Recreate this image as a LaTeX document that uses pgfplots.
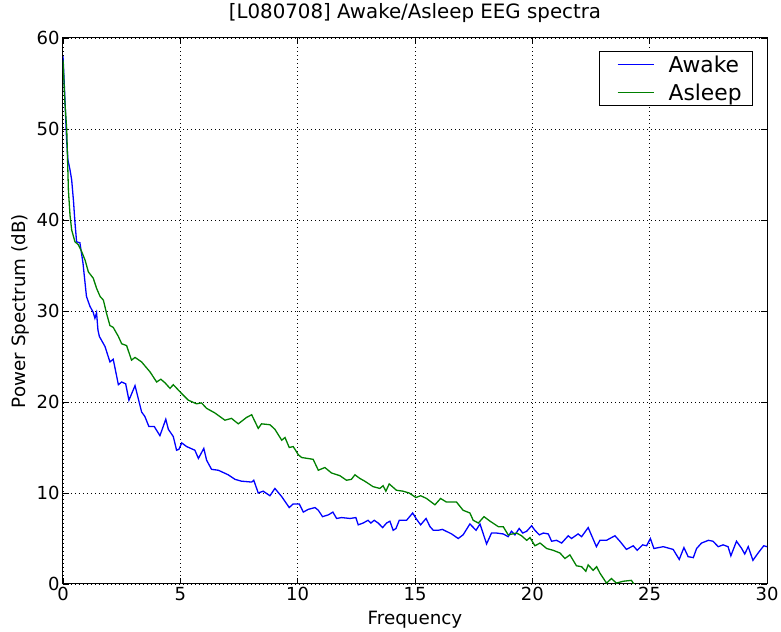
\documentclass[border=0pt]{standalone}
\usepackage{fontspec}
\setmainfont{DejaVu Sans}
\usepackage{pgfplots}
\pgfplotsset{compat=1.18}

\definecolor{mplblue}{rgb}{0,0,1}
\definecolor{mplgreen}{rgb}{0,0.5,0}

\begin{document}
\begin{tikzpicture}
\begin{axis}[
  scale only axis,
  width=704pt, height=546pt,
  xmin=0, xmax=30, ymin=0, ymax=60,
  xtick={0,5,...,30}, ytick={0,10,...,60},
  /pgf/number format/assume math mode=true,
  tick label style={font=\fontsize{18}{18}\selectfont},
  tick align=inside,
  major tick length=6pt,
  axis line style={line width=1pt},
  every tick/.style={black, line width=0.8pt},
  grid=major,
  major grid style={black, line width=0.8pt, dash pattern=on 1pt off 3pt},
  xlabel={Frequency},
  ylabel={Power Spectrum (dB)},
  title={[L080708] Awake/Asleep EEG spectra},
  label style={font=\fontsize{18.3}{18}\selectfont},
  xlabel style={at={(axis description cs:0.5,-0.066)}, anchor=center},
  ylabel style={at={(axis description cs:-0.061,0.5)}, anchor=center},
  title style={at={(axis description cs:0.5,1.035)}, anchor=center, font=\fontsize{19.8}{20}\selectfont},
  legend style={at={(rel axis cs:0.9801,0.9762)}, anchor=north east, draw=black, line width=0.8pt,
    font=\fontsize{21.8}{24}\selectfont, inner xsep=11pt, inner ysep=2pt,
    nodes={inner sep=0pt, text height=19pt, text depth=3pt}, row sep=6pt, column sep=0pt},
  legend cell align=left,
  legend image code/.code={
    \path[draw=none] (-7pt,0pt) -- (51pt,0pt);
    \draw[#1, line width=1.3pt] plot coordinates {(0pt,0pt) (36pt,0pt)};
  },
]
\addplot[mplblue, line width=1.3pt] coordinates {
(0,58.0) (0.07,54) (0.15,49) (0.21,46.6) (0.3,45.5) (0.37,44.4) (0.45,42) (0.51,39.7) (0.58,37.6) (0.72,37.5) (0.85,35.3) (1.0,31.6) (1.15,30.5) (1.28,29.9) (1.36,29.2) (1.43,29.8) (1.49,27.9) (1.55,27.2) (1.79,26.1) (2.0,24.4) (2.14,24.7) (2.36,21.9) (2.5,22.2) (2.67,22.0) (2.81,20.2) (3.07,21.8) (3.35,18.9) (3.49,18.4) (3.66,17.3) (3.89,17.3) (4.13,16.3) (4.38,18.1) (4.49,17.0) (4.7,16.2) (4.84,14.7) (4.94,14.8) (5.06,15.5) (5.27,15.1) (5.62,14.7) (5.77,13.8) (6.0,14.9) (6.12,13.6) (6.33,12.6) (6.62,12.5) (7.04,12.0) (7.33,11.5) (7.6,11.3) (8.04,11.2) (8.13,11.4) (8.32,10.0) (8.53,10.2) (8.82,9.7) (9.03,10.5) (9.32,9.6) (9.64,8.4) (9.81,8.8) (10.07,8.8) (10.24,7.9) (10.45,8.2) (10.74,8.4) (10.88,8.1) (11.06,7.4) (11.31,7.6) (11.5,7.9) (11.66,7.2) (11.87,7.3) (12.23,7.2) (12.48,7.3) (12.58,6.5) (12.79,6.7) (13.0,7.0) (13.12,6.7) (13.26,7.0) (13.43,6.7) (13.62,6.2) (13.79,6.7) (13.93,6.9) (14.07,5.9) (14.19,6.1) (14.33,7.0) (14.64,7.0) (14.9,7.8) (15.07,7.1) (15.24,6.5) (15.47,7.2) (15.64,6.3) (15.78,5.9) (15.99,5.9) (16.17,6.0) (16.56,5.5) (16.84,5.0) (17.05,5.4) (17.34,6.6) (17.6,5.9) (17.77,6.6) (18.05,4.4) (18.26,5.6) (18.47,5.6) (18.76,5.5) (18.97,5.2) (19.11,5.8) (19.26,5.4) (19.44,6.1) (19.59,5.6) (19.76,5.8) (19.97,6.4) (20.11,5.9) (20.3,5.4) (20.47,5.6) (20.68,5.5) (20.82,4.7) (21.03,4.8) (21.25,4.5) (21.53,5.3) (21.67,5.0) (21.95,5.5) (22.1,5.2) (22.38,6.2) (22.73,4.1) (22.88,4.8) (23.16,4.8) (23.52,5.3) (23.73,4.7) (24.01,3.8) (24.3,4.2) (24.47,3.7) (24.7,4.3) (24.87,4.2) (25.03,5.0) (25.18,3.9) (25.58,4.1) (26.0,3.8) (26.26,2.7) (26.46,4.0) (26.64,3.0) (26.86,2.9) (27.0,3.9) (27.21,4.5) (27.5,4.8) (27.7,4.7) (27.92,4.1) (28.13,4.3) (28.34,4.1) (28.46,3.1) (28.7,4.7) (28.92,3.9) (29.05,3.3) (29.2,4.1) (29.4,2.6) (29.62,3.4) (29.86,4.2) (30,4.1)
};
\addlegendentry{Awake}
\addplot[mplgreen, line width=1.3pt] coordinates {
(0,57.6) (0.08,53) (0.16,49.9) (0.23,43.3) (0.3,40.5) (0.37,38.9) (0.51,37.6) (0.65,37.3) (0.8,36.5) (0.94,35.6) (1.08,34.3) (1.29,33.6) (1.43,32.5) (1.58,31.6) (1.72,31.2) (1.86,29.7) (2.0,28.4) (2.14,28.2) (2.36,27.2) (2.5,26.4) (2.71,26.2) (2.92,24.6) (3.07,24.9) (3.35,24.4) (3.71,23.3) (3.99,22.2) (4.17,22.5) (4.35,22.1) (4.56,21.5) (4.7,21.9) (5.03,21.0) (5.34,20.2) (5.69,19.8) (5.9,19.9) (6.12,19.3) (6.47,18.8) (6.9,18.0) (7.18,18.2) (7.47,17.6) (7.82,18.3) (8.04,18.6) (8.32,17.1) (8.46,17.6) (8.82,17.5) (9.03,17.0) (9.32,15.8) (9.46,16.1) (9.64,15.0) (9.81,15.1) (10.03,14.2) (10.17,13.9) (10.66,13.7) (10.88,12.5) (11.16,12.8) (11.44,12.2) (11.8,11.9) (12.08,11.4) (12.29,11.5) (12.44,12.0) (12.65,11.6) (12.86,11.3) (13.21,10.7) (13.5,10.5) (13.64,10.8) (13.76,10.2) (13.9,11.0) (14.21,10.3) (14.49,10.2) (14.75,10.0) (15.04,9.5) (15.24,9.7) (15.49,9.4) (15.85,8.7) (16.09,9.4) (16.34,9.0) (16.77,9.0) (17.05,8.1) (17.34,7.8) (17.48,7.0) (17.7,6.7) (17.94,7.4) (18.2,6.9) (18.55,6.3) (18.76,6.3) (18.97,5.4) (19.33,5.6) (19.54,5.3) (19.76,4.8) (19.9,5.1) (20.11,4.2) (20.33,4.5) (20.61,3.9) (20.89,3.7) (21.18,3.4) (21.39,2.8) (21.6,3.2) (21.88,2.0) (22.1,1.9) (22.28,1.4) (22.38,2.1) (22.59,1.5) (22.74,1.9) (22.88,1.2) (23.16,0.1) (23.37,0.6) (23.58,0.1) (23.87,0.3) (24.22,0.4) (24.3,0.1) (24.4,-1) (24.6,-2)
};
\addlegendentry{Asleep}
\coordinate (bl) at (rel axis cs:0,0);
\coordinate (tr) at (rel axis cs:1,1);
\end{axis}
\pgfresetboundingbox
\useasboundingbox ([shift={(-63pt,-48pt)}]bl) rectangle ([shift={(14pt,38pt)}]tr);
\end{tikzpicture}
\end{document}
